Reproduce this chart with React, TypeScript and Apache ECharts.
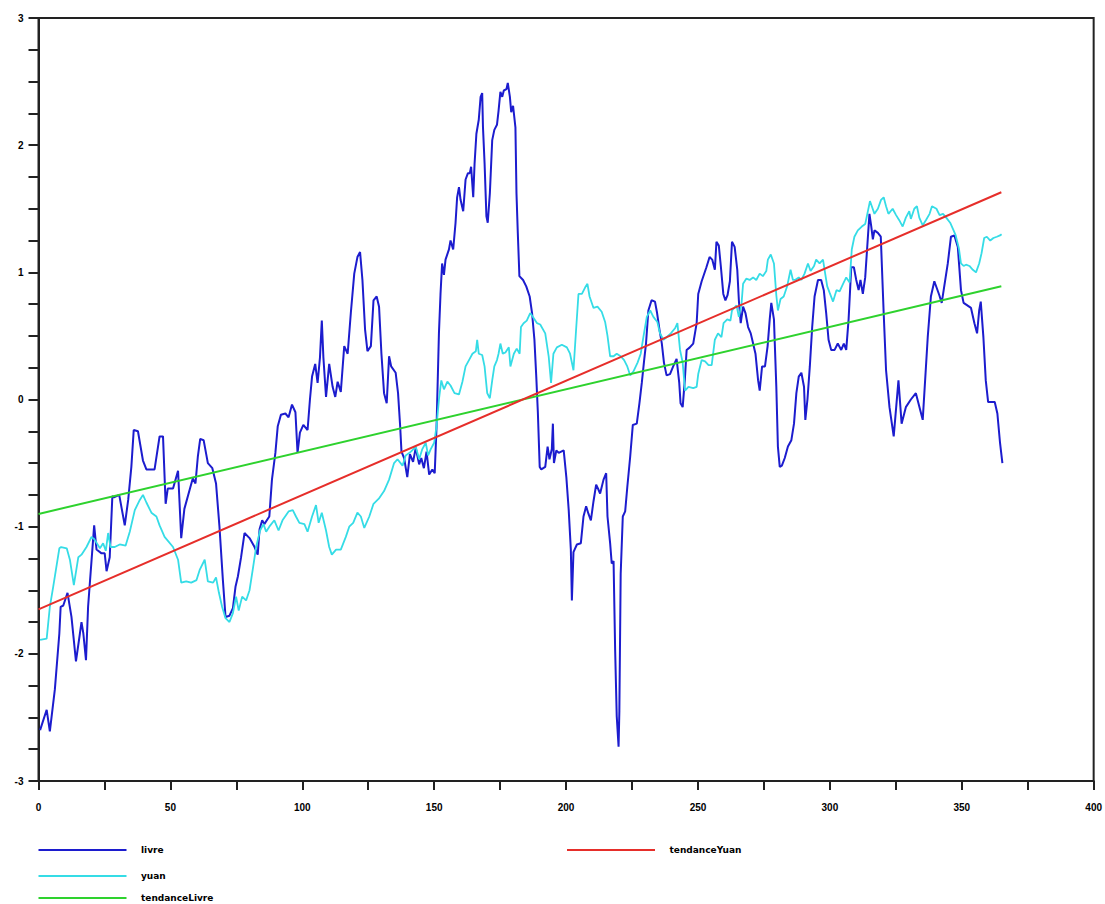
import React, { useEffect, useRef } from "react";
import * as echarts from "echarts";

// ---- data ----
const xTicks = { min: 0, max: 400, step: 25, labelStep: 50 };
const yTicks = { min: -3, max: 3, step: 0.25 };

const seriesNames = ["livre", "yuan", "tendanceLivre", "tendanceYuan"];

const livre: [number, number][] = [
  [0.6,-2.60],[3.1,-2.44],[4.3,-2.61],[6.2,-2.28],[7.9,-1.84],[8.4,-1.63],[9.4,-1.62],[11.0,-1.52],[12.5,-1.71],[14.2,-2.06],[15.7,-1.84],[16.3,-1.75],[17.0,-1.84],[18.0,-2.05],[18.8,-1.63],[21.1,-0.99],[22.0,-1.18],[23.9,-1.21],[25.1,-1.21],[25.8,-1.35],[27.0,-1.24],[28.0,-0.76],[28.6,-0.77],[30.6,-0.75],[32.7,-0.99],[34.0,-0.79],[35.2,-0.53],[36.1,-0.24],[37.7,-0.25],[39.6,-0.48],[40.9,-0.55],[44.0,-0.55],[45.9,-0.29],[47.2,-0.29],[48.2,-0.82],[49.0,-0.70],[51.0,-0.70],[52.9,-0.56],[54.1,-1.09],[55.3,-0.86],[57.3,-0.71],[58.5,-0.62],[59.5,-0.66],[60.4,-0.45],[61.3,-0.31],[62.6,-0.32],[64.2,-0.50],[65.9,-0.54],[67.3,-0.66],[68.6,-1.00],[69.9,-1.42],[70.9,-1.71],[72.4,-1.70],[73.7,-1.64],[74.7,-1.47],[75.6,-1.39],[76.8,-1.24],[78.1,-1.05],[80.0,-1.09],[81.9,-1.16],[83.1,-1.22],[83.8,-1.02],[84.8,-0.95],[85.6,-0.98],[87.5,-0.92],[88.5,-0.63],[89.8,-0.42],[90.7,-0.21],[91.9,-0.12],[93.6,-0.11],[94.8,-0.14],[96.1,-0.04],[97.4,-0.10],[98.2,-0.42],[99.1,-0.26],[100.4,-0.20],[102.0,-0.24],[102.9,0.00],[103.7,0.18],[104.9,0.28],[105.8,0.13],[106.7,0.33],[107.4,0.62],[108.0,0.33],[109.0,0.02],[110.2,0.28],[111.5,0.10],[112.5,0.02],[113.4,0.14],[114.6,0.06],[115.9,0.42],[117.2,0.36],[118.4,0.68],[119.7,0.99],[120.9,1.12],[121.9,1.16],[122.8,0.94],[123.8,0.55],[124.7,0.38],[126.0,0.42],[127.0,0.78],[128.2,0.81],[129.1,0.73],[130.0,0.36],[131.0,0.05],[132.0,-0.03],[132.9,0.34],[133.7,0.26],[135.4,0.21],[136.3,0.05],[137.1,-0.21],[137.6,-0.41],[138.6,-0.46],[139.8,-0.61],[140.8,-0.43],[142.0,-0.49],[143.0,-0.38],[144.3,-0.51],[145.1,-0.46],[146.1,-0.54],[147.1,-0.41],[148.1,-0.59],[149.3,-0.55],[150.2,-0.58],[150.9,-0.21],[151.8,0.52],[152.4,0.83],[153.0,1.07],[153.7,0.98],[154.3,1.10],[155.6,1.18],[156.2,1.25],[157.2,1.18],[158.1,1.39],[158.7,1.59],[159.4,1.67],[160.0,1.57],[161.0,1.48],[161.9,1.73],[162.8,1.78],[163.5,1.78],[164.0,1.83],[164.8,1.59],[165.3,1.85],[166.0,2.09],[166.9,2.20],[167.6,2.38],[168.2,2.41],[168.5,2.14],[169.1,1.86],[169.8,1.44],[170.3,1.39],[171.1,1.62],[172.0,2.04],[172.8,2.12],[173.8,2.16],[174.4,2.27],[175.1,2.42],[175.8,2.38],[176.4,2.43],[177.4,2.44],[177.9,2.49],[178.7,2.38],[179.2,2.26],[179.9,2.31],[180.8,2.14],[181.2,1.62],[181.7,1.31],[182.3,0.97],[183.7,0.94],[184.9,0.89],[186.2,0.81],[187.1,0.68],[188.0,0.47],[188.7,0.18],[189.3,-0.10],[190.0,-0.53],[190.6,-0.55],[192.1,-0.53],[193.0,-0.37],[193.7,-0.47],[194.6,-0.39],[195.0,-0.19],[195.4,-0.50],[196.3,-0.40],[197.2,-0.42],[199.1,-0.40],[200.1,-0.61],[201.0,-0.87],[201.8,-1.18],[202.2,-1.58],[202.8,-1.20],[204.1,-1.14],[205.6,-1.13],[206.6,-0.92],[207.6,-0.84],[208.5,-0.90],[209.4,-0.95],[210.4,-0.80],[211.4,-0.67],[212.3,-0.71],[212.9,-0.74],[214.2,-0.63],[215.2,-0.58],[215.7,-0.92],[216.7,-1.13],[217.3,-1.29],[218.0,-1.27],[218.6,-1.97],[219.2,-2.49],[219.9,-2.73],[220.2,-2.45],[220.7,-1.37],[221.5,-0.92],[222.4,-0.88],[223.2,-0.69],[224.3,-0.45],[225.3,-0.20],[226.8,-0.19],[227.8,-0.03],[228.7,0.13],[229.6,0.31],[230.3,0.44],[231.2,0.70],[232.4,0.78],[233.7,0.77],[234.5,0.68],[235.4,0.55],[236.3,0.44],[237.1,0.29],[238.1,0.19],[239.4,0.20],[240.6,0.26],[241.9,0.32],[242.9,0.13],[243.4,-0.03],[244.2,-0.06],[245.0,0.15],[245.7,0.39],[246.9,0.41],[248.2,0.44],[249.5,0.60],[250.1,0.83],[251.4,0.93],[253.2,1.04],[254.4,1.12],[255.4,1.10],[256.4,1.02],[257.0,1.24],[257.9,1.21],[258.7,1.04],[259.6,0.83],[260.4,0.78],[261.2,0.82],[262.1,0.93],[262.9,1.24],[263.9,1.20],[264.9,1.02],[265.5,0.78],[266.2,0.60],[267.1,0.73],[268.0,0.68],[269.0,0.57],[270.0,0.52],[270.9,0.44],[271.8,0.36],[272.8,0.15],[273.4,0.07],[274.3,0.26],[275.4,0.26],[276.4,0.42],[277.2,0.63],[277.8,0.76],[278.8,0.63],[279.7,0.10],[280.3,-0.37],[281.0,-0.53],[281.8,-0.52],[282.9,-0.46],[284.1,-0.37],[285.4,-0.32],[286.4,-0.19],[287.3,0.05],[288.2,0.18],[289.2,0.21],[290.2,0.10],[290.7,-0.16],[291.5,0.00],[292.4,0.26],[293.3,0.57],[294.2,0.81],[295.5,0.94],[296.7,0.94],[297.7,0.86],[298.6,0.68],[299.5,0.47],[300.5,0.39],[301.8,0.39],[303.0,0.44],[304.3,0.39],[305.3,0.44],[306.2,0.39],[307.1,0.63],[308.1,1.04],[309.1,1.04],[310.0,0.94],[310.9,0.86],[311.6,0.94],[312.5,0.83],[313.4,0.96],[314.1,1.18],[315.0,1.46],[315.7,1.36],[316.3,1.26],[316.9,1.33],[318.2,1.31],[319.3,1.28],[320.4,0.68],[321.3,0.23],[322.6,-0.06],[324.2,-0.29],[326.0,0.15],[327.2,-0.19],[328.8,-0.06],[330.7,0.00],[332.6,0.05],[335.2,-0.16],[337.1,0.49],[338.3,0.81],[339.6,0.93],[341.5,0.82],[342.4,0.76],[344.7,1.07],[345.9,1.28],[347.2,1.29],[348.5,1.20],[349.7,0.86],[350.7,0.76],[353.5,0.72],[354.8,0.60],[355.8,0.52],[356.6,0.70],[357.2,0.77],[358.2,0.49],[359.1,0.15],[360.0,-0.02],[362.5,-0.02],[363.5,-0.11],[364.5,-0.34],[365.4,-0.50]
];

const yuan: [number, number][] = [
  [0.6,-1.89],[3.1,-1.88],[4.3,-1.63],[5.6,-1.47],[7.9,-1.17],[8.6,-1.16],[10.7,-1.17],[11.9,-1.26],[13.4,-1.46],[15.1,-1.24],[16.3,-1.22],[18.2,-1.16],[20.1,-1.08],[21.2,-1.10],[23.3,-1.17],[24.5,-1.13],[25.5,-1.19],[26.4,-1.05],[27.3,-1.16],[28.9,-1.16],[30.8,-1.14],[33.0,-1.15],[34.6,-1.04],[36.5,-0.87],[38.4,-0.79],[39.6,-0.75],[40.9,-0.81],[42.8,-0.89],[44.7,-0.92],[45.9,-0.99],[47.8,-1.08],[51.0,-1.16],[52.9,-1.26],[54.1,-1.44],[56.0,-1.43],[57.9,-1.44],[59.9,-1.42],[61.1,-1.34],[63.0,-1.26],[64.2,-1.43],[66.2,-1.44],[67.3,-1.40],[68.4,-1.52],[69.6,-1.63],[70.9,-1.72],[72.4,-1.75],[73.7,-1.68],[74.9,-1.55],[75.9,-1.66],[77.2,-1.55],[78.7,-1.58],[80.0,-1.50],[81.2,-1.34],[82.5,-1.16],[84.0,-1.03],[85.3,-0.98],[86.3,-1.04],[87.5,-1.00],[89.4,-0.95],[91.0,-1.03],[92.5,-0.95],[94.8,-0.88],[96.4,-0.87],[97.6,-0.92],[98.9,-0.97],[100.8,-0.98],[102.0,-1.04],[103.7,-0.92],[105.2,-0.83],[106.2,-0.97],[107.4,-0.89],[109.0,-1.03],[110.2,-1.16],[111.2,-1.22],[112.8,-1.18],[114.6,-1.18],[116.5,-1.08],[117.8,-1.00],[119.3,-0.97],[120.9,-0.89],[122.2,-0.92],[123.5,-1.01],[125.4,-0.92],[127.0,-0.82],[129.0,-0.78],[131.0,-0.72],[132.9,-0.63],[134.8,-0.50],[136.1,-0.47],[138.0,-0.52],[139.2,-0.44],[141.2,-0.41],[143.0,-0.37],[144.3,-0.47],[145.5,-0.39],[146.8,-0.34],[147.7,-0.44],[148.7,-0.39],[150.0,-0.34],[150.9,-0.21],[151.8,0.00],[152.7,0.15],[153.7,0.08],[155.0,0.14],[156.2,0.11],[157.7,0.05],[159.4,0.04],[160.7,0.14],[161.9,0.26],[163.2,0.31],[164.5,0.36],[165.8,0.38],[166.3,0.47],[166.9,0.36],[168.2,0.35],[169.1,0.26],[170.1,0.05],[171.1,0.01],[172.0,0.15],[172.8,0.26],[173.8,0.31],[174.4,0.36],[175.1,0.44],[176.0,0.36],[177.0,0.37],[178.3,0.41],[178.9,0.26],[180.2,0.36],[181.3,0.40],[182.4,0.36],[182.9,0.57],[183.9,0.60],[185.1,0.62],[186.4,0.68],[187.7,0.64],[189.0,0.60],[190.2,0.59],[192.1,0.52],[193.4,0.34],[194.3,0.13],[195.2,0.36],[196.5,0.41],[198.4,0.43],[200.3,0.41],[201.5,0.36],[202.8,0.23],[203.8,0.55],[204.7,0.83],[206.0,0.83],[207.2,0.88],[208.1,0.91],[208.9,0.81],[210.4,0.72],[211.9,0.73],[213.5,0.69],[214.8,0.61],[215.7,0.50],[216.7,0.34],[218.0,0.34],[219.2,0.36],[220.7,0.34],[222.0,0.31],[223.2,0.26],[224.3,0.19],[225.5,0.22],[227.1,0.29],[228.3,0.36],[229.3,0.49],[230.6,0.65],[231.9,0.70],[233.1,0.65],[234.6,0.61],[235.6,0.52],[236.9,0.47],[238.1,0.49],[239.7,0.52],[241.3,0.56],[242.2,0.60],[243.2,0.39],[244.2,0.29],[245.1,0.07],[246.4,0.10],[248.2,0.09],[249.5,0.10],[250.1,0.20],[251.4,0.31],[252.7,0.30],[254.0,0.27],[255.2,0.27],[256.4,0.47],[257.6,0.52],[258.9,0.49],[259.7,0.60],[261.1,0.63],[262.3,0.62],[262.9,0.70],[264.6,0.74],[265.5,0.65],[266.5,0.75],[267.1,0.91],[268.3,0.95],[269.6,0.94],[270.9,0.96],[272.1,0.94],[273.4,0.99],[274.6,0.97],[275.9,1.01],[276.5,1.10],[277.6,1.14],[278.8,1.07],[279.7,0.82],[280.3,0.70],[281.3,0.79],[282.5,0.81],[283.8,0.89],[285.1,1.02],[286.0,0.94],[286.8,0.94],[288.2,0.96],[289.2,0.94],[290.4,0.99],[291.7,1.07],[292.7,1.01],[294.0,1.05],[294.8,1.10],[296.1,1.07],[297.4,1.10],[298.0,1.02],[299.0,0.89],[299.9,0.84],[301.2,0.77],[302.5,0.86],[303.7,0.85],[305.0,0.91],[306.2,0.96],[307.5,0.92],[308.3,1.18],[309.3,1.28],[310.6,1.33],[312.1,1.36],[313.4,1.38],[314.2,1.46],[315.2,1.56],[315.9,1.52],[316.9,1.46],[318.2,1.50],[319.4,1.57],[320.4,1.59],[321.3,1.52],[322.2,1.46],[323.8,1.50],[325.1,1.45],[326.3,1.41],[327.6,1.36],[328.8,1.43],[330.1,1.48],[330.7,1.42],[332.0,1.50],[333.0,1.52],[333.9,1.43],[335.2,1.37],[336.4,1.41],[337.8,1.46],[338.7,1.52],[340.4,1.50],[341.6,1.45],[342.9,1.46],[344.1,1.43],[345.6,1.39],[346.9,1.33],[347.7,1.29],[348.9,1.19],[349.7,1.07],[350.7,1.05],[351.6,1.06],[352.9,1.05],[354.2,1.02],[355.4,1.00],[356.6,1.07],[357.5,1.15],[358.5,1.27],[359.5,1.28],[360.8,1.25],[362.0,1.27],[363.3,1.28],[364.5,1.29],[365.1,1.30]
];

const tendanceLivre: [number, number][] = [[0, -0.90], [365, 0.89]];
const tendanceYuan: [number, number][] = [[0, -1.65], [365, 1.63]];

const colors = {
  livre: "#1c1cce",
  yuan: "#35dce6",
  tendanceLivre: "#2ed22e",
  tendanceYuan: "#e62e2a",
};

const FONT = "'Liberation Sans', Arial, Helvetica, sans-serif";
const LEGEND_FONT = "'DejaVu Sans', Verdana, sans-serif";

export default function App() {
  const ref = useRef<HTMLDivElement>(null);

  useEffect(() => {
    document.body.style.margin = "0";
    document.body.style.overflow = "hidden";
    const chart = echarts.init(ref.current!, undefined, { renderer: "svg" });

    const axisColor = "#222";
    const lineSeries = (name: string, data: [number, number][], color: string, width: number, z: number) => ({
      name,
      type: "line",
      data,
      symbol: "none",
      showSymbol: false,
      color,
      lineStyle: { color, width },
      z,
      silent: true,
    });

    const legendItem = (name: string, left: number, top: number) => ({
      data: [name],
      left,
      top,
      icon: "rect",
      itemWidth: 88,
      itemHeight: 2,
      selectedMode: false,
      orient: "vertical",
      padding: 0,
      textStyle: {
        fontFamily: LEGEND_FONT,
        fontSize: 9,
        fontWeight: "bold",
        color: "#000",
        lineHeight: 10,
        padding: [0, 0, 0, 9.5],
      },
    });

    chart.setOption({
      animation: false,
      backgroundColor: "#fff",
      grid: {
        left: 38.5,
        right: 8.5,
        top: 18,
        bottom: 123,
        show: true,
        borderColor: axisColor,
        borderWidth: 2,
        containLabel: false,
      },
      legend: [
        legendItem(seriesNames[0], 38.5, 845),
        legendItem(seriesNames[1], 38.5, 871),
        legendItem(seriesNames[2], 38.5, 893),
        legendItem(seriesNames[3], 567, 845),
      ],
      xAxis: {
        type: "value",
        min: xTicks.min,
        max: xTicks.max,
        interval: xTicks.step,
        axisLine: { show: true, onZero: false, lineStyle: { color: axisColor, width: 2 } },
        axisTick: { show: true, length: 9, lineStyle: { color: axisColor, width: 2 } },
        axisLabel: {
          margin: 21,
          fontFamily: FONT,
          fontSize: 10,
          fontWeight: "bold",
          color: "#000",
          formatter: (v: number) => (Math.round(v) % xTicks.labelStep === 0 ? String(v) : ""),
        },
        splitLine: { show: false },
      },
      yAxis: {
        type: "value",
        min: yTicks.min,
        max: yTicks.max,
        interval: yTicks.step,
        axisLine: { show: true, onZero: false, lineStyle: { color: axisColor, width: 2 } },
        axisTick: { show: true, length: 10, lineStyle: { color: axisColor, width: 2 } },
        axisLabel: {
          margin: 15,
          fontFamily: FONT,
          fontSize: 10,
          fontWeight: "bold",
          color: "#000",
          formatter: (v: number) => (Number.isInteger(v) ? String(v) : ""),
        },
        splitLine: { show: false },
      },
      series: [
        lineSeries(seriesNames[0], livre, colors.livre, 2, 2),
        lineSeries(seriesNames[1], yuan, colors.yuan, 1.8, 3),
        lineSeries(seriesNames[2], tendanceLivre, colors.tendanceLivre, 2, 4),
        lineSeries(seriesNames[3], tendanceYuan, colors.tendanceYuan, 2, 5),
      ],
    });

    return () => chart.dispose();
  }, []);

  return (
    <div
      ref={ref}
      style={{ position: "absolute", left: 0, top: 0, width: 1105, height: 904 }}
    />
  );
}
